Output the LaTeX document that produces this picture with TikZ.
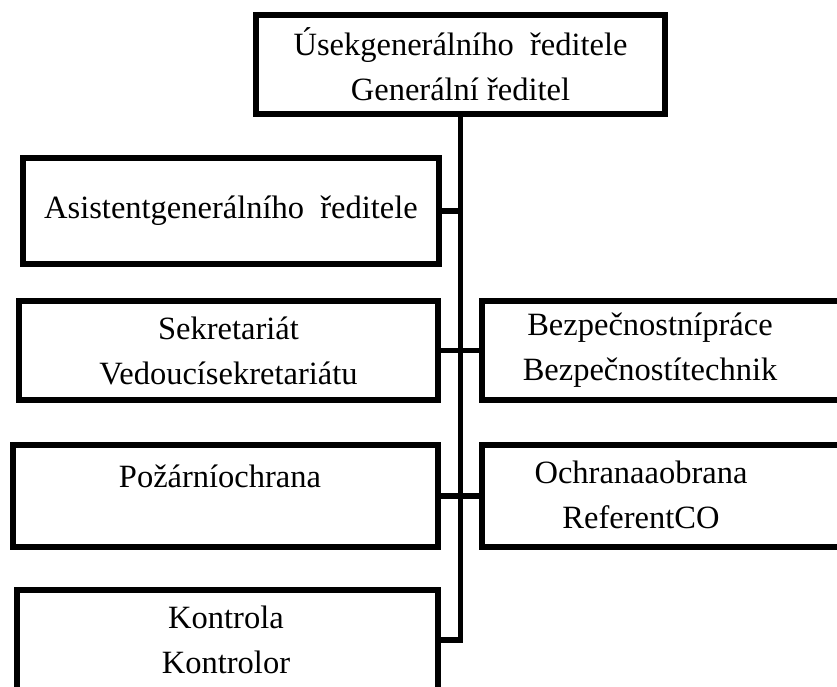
\documentclass[tikz,border=0pt]{standalone}
\usepackage{fontspec}
\setmainfont{Liberation Serif}
\newcommand{\boxfont}{\fontsize{32.5}{45}\selectfont}
\begin{document}
\begin{tikzpicture}[x=1pt,y=-1pt,
  box/.style={draw, line width=5.5pt, rectangle, outer sep=0pt, inner sep=0pt,
              align=center, font=\boxfont},
  link/.style={line width=5.5pt},
  txt/.style={align=center, inner sep=0pt, font=\boxfont}]
\useasboundingbox (0,0) rectangle (837,687);
\clip (0,0) rectangle (837,687);

% head of the division
\node[box, minimum width=409pt, minimum height=99pt] (top) at (460.5,64.5)
  {Úsekgenerálního\ \ ředitele\\Generální ředitel};

% left column
\node[box, minimum width=416pt, minimum height=106pt] (asist) at (231,211)
  {Asistentgenerálního\ \ ředitele};
\node[box, minimum width=419pt, minimum height=99pt] (sek) at (228.5,350.5)
  {Sekretariát\\Vedoucísekretariátu};
\node[box, minimum width=425pt, minimum height=102pt] (poz) at (225.5,496) {};
\node[txt] (pozt) at (220,476) {Požárníochrana};
\node[box, minimum width=421pt, minimum height=170pt] (kon) at (227.5,675) {};
\node[txt] (kont) at (226,640) {Kontrola\\Kontrolor};

% right column
\node[box, minimum width=378pt, minimum height=99pt] (bez) at (671,350.5) {};
\node[txt] (bezt) at (650,350.5) {Bezpečnostnípráce\\Bezpečnostítechnik};
\node[box, minimum width=378pt, minimum height=102pt] (och) at (671,496) {};
\node[txt] (ocht) at (641,495) {Ochranaaobrana\\ReferentCO};

% connectors
\coordinate (stemend) at (460.5,640);
\draw[link] (top.south) -- (stemend) -- (stemend -| kon.east);
\draw[link] (asist.east) -- (asist.east -| top.south);
\draw[link] (sek.east) -- (bez.west);
\draw[link] (poz.east) -- (och.west);
\end{tikzpicture}
\end{document}
